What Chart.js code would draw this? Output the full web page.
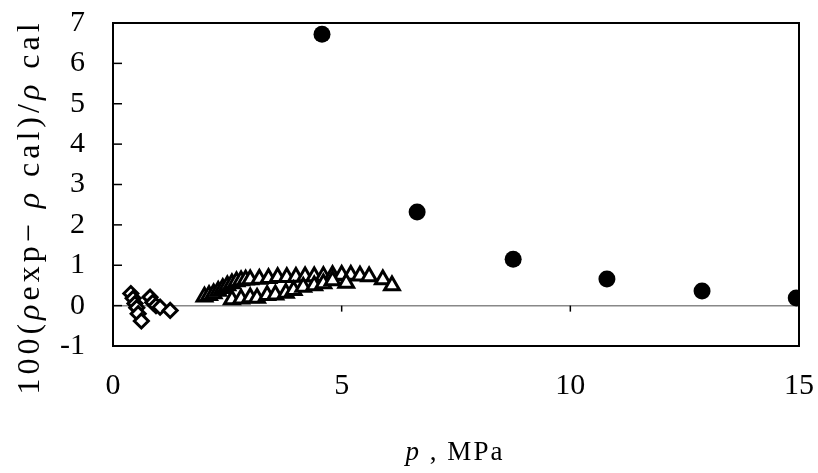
<!DOCTYPE html>
<html>
<head>
<meta charset="utf-8">
<script src="https://cdn.jsdelivr.net/npm/chart.js@4"></script>
<style>
  html, body { margin: 0; padding: 0; background: #fff; }
  #wrap { width: 818px; height: 473px; }
</style>
</head>
<body>
<div id="wrap"><canvas id="grafico"></canvas></div>
<script>
// diamonds (low pressure)
const diamondX = [0.39, 0.44, 0.48, 0.52, 0.55, 0.62, 0.81, 0.87, 0.94, 1.03, 1.25];
const diamondY = [0.30, 0.18, 0.05, -0.05, -0.20, -0.38, 0.21, 0.08, 0.00, -0.04, -0.12];

// triangles (mid pressure)
const triangleX = [2.0, 2.1, 2.2, 2.3, 2.4, 2.5, 2.6, 2.7, 2.8, 2.9, 3.0, 3.2, 3.4, 3.6, 3.8, 4.0, 4.2, 4.4, 4.6, 4.8, 5.0, 5.2, 5.4, 5.6, 5.9, 6.1,
                   2.6, 2.8, 3.0, 3.15, 3.37, 3.55, 3.78, 3.95, 4.16, 4.4, 4.6, 4.8, 5.1];
const triangleY = [0.22, 0.26, 0.30, 0.36, 0.43, 0.50, 0.55, 0.60, 0.62, 0.64, 0.65, 0.66, 0.68, 0.70, 0.70, 0.71, 0.72, 0.72, 0.73, 0.75, 0.76, 0.76, 0.74, 0.72, 0.65, 0.50,
                   0.15, 0.17, 0.20, 0.19, 0.26, 0.27, 0.31, 0.38, 0.46, 0.50, 0.55, 0.62, 0.56];

// filled circles (high pressure)
const circleX = [4.57, 6.65, 8.75, 10.8, 12.88, 14.94];
const circleY = [6.72, 2.32, 1.15, 0.66, 0.36, 0.19];

const xTicks = [0, 5, 10, 15];
const yTicks = [-1, 0, 1, 2, 3, 4, 5, 6, 7];

// axis titles, pieces marked true are italic
const yTitle = [['100(', false], ['ρ', true], ['exp− ', false], ['ρ', true], [' cal)/', false], ['ρ', true], [' cal', false]];
const xTitle = [['p', true], [' , MPa', false]];

const toPts = (xs, ys) => xs.map((x, i) => ({ x: x, y: ys[i] }));

const serif = "'Liberation Serif', 'DejaVu Serif', serif";

// write a title made of normal and italic pieces, centred on 0,0
function drawPieces(ctx, pieces, size, spacing) {
    const fontOf = it => (it ? 'italic ' : '') + size + 'px ' + serif;
    ctx.letterSpacing = spacing + 'px';
    let total = 0;
    pieces.forEach(p => { ctx.font = fontOf(p[1]); total += ctx.measureText(p[0]).width; });
    let x = -total / 2;
    ctx.textAlign = 'left';
    ctx.textBaseline = 'alphabetic';
    ctx.fillStyle = '#000';
    pieces.forEach(p => {
        ctx.font = fontOf(p[1]);
        ctx.fillText(p[0], x, 0);
        x += ctx.measureText(p[0]).width;
    });
}

// frame, zero line, inner tick marks and titles
const framePlugin = {
    id: 'frame',
    beforeDatasetsDraw(chart) {
        const { ctx, chartArea: a, scales } = chart;
        const y0 = scales.y.getPixelForValue(0);
        ctx.save();
        ctx.strokeStyle = '#888';
        ctx.lineWidth = 1.5;
        ctx.beginPath();
        ctx.moveTo(a.left, y0);
        ctx.lineTo(a.right, y0);
        ctx.stroke();
        ctx.strokeStyle = '#000';
        ctx.lineWidth = 1.5;
        yTicks.forEach(v => {
            const py = scales.y.getPixelForValue(v);
            ctx.beginPath();
            ctx.moveTo(a.left, py);
            ctx.lineTo(a.left + 9, py);
            ctx.stroke();
        });
        xTicks.forEach(v => {
            const px = scales.x.getPixelForValue(v);
            ctx.beginPath();
            ctx.moveTo(px, y0);
            ctx.lineTo(px, y0 + 6);
            ctx.stroke();
        });
        ctx.lineWidth = 2;
        ctx.strokeRect(a.left, a.top, a.right - a.left, a.bottom - a.top);
        ctx.restore();
    },
    afterDraw(chart) {
        const ctx = chart.ctx;
        ctx.save();
        ctx.translate(39, 207);
        ctx.rotate(-Math.PI / 2);
        drawPieces(ctx, yTitle, 32, 4);
        ctx.restore();
        ctx.save();
        ctx.translate(455, 460);
        drawPieces(ctx, xTitle, 27, 2);
        ctx.restore();
    }
};

const config = {
    type: 'scatter',
    data: {
        datasets: [
            {
                label: 'diamonds',
                data: toPts(diamondX, diamondY),
                pointStyle: 'rectRot',
                pointRadius: 7,
                backgroundColor: '#fff',
                borderColor: '#000',
                borderWidth: 3
            },
            {
                label: 'triangles',
                data: toPts(triangleX, triangleY),
                pointStyle: 'triangle',
                pointRadius: 8.5,
                backgroundColor: '#fff',
                borderColor: '#000',
                borderWidth: 3
            },
            {
                label: 'circles',
                data: toPts(circleX, circleY),
                pointStyle: 'circle',
                pointRadius: 8.5,
                backgroundColor: '#000',
                borderColor: '#000',
                borderWidth: 0
            }
        ]
    },
    options: {
        responsive: false,
        animation: false,
        layout: { padding: { top: 23, right: 19, left: 0, bottom: 0 } },
        plugins: {
            legend: { display: false },
            tooltip: { enabled: false }
        },
        scales: {
            x: {
                type: 'linear',
                min: 0,
                max: 15,
                afterBuildTicks: s => { s.ticks = xTicks.map(v => ({ value: v })); },
                afterFit: s => { s.height = 127; s.paddingLeft = 0; s.paddingRight = 0; },
                grid: { display: false, drawTicks: false },
                border: { display: false },
                ticks: { color: '#000', font: { family: serif, size: 30 }, padding: 22, autoSkip: false, maxRotation: 0 }
            },
            y: {
                min: -1,
                max: 7,
                afterBuildTicks: s => { s.ticks = yTicks.map(v => ({ value: v })); },
                afterFit: s => { s.width = 113; s.paddingTop = 0; s.paddingBottom = 0; },
                grid: { display: false, drawTicks: false },
                border: { display: false },
                ticks: { color: '#000', font: { family: serif, size: 30 }, padding: 28, autoSkip: false }
            }
        }
    },
    plugins: [framePlugin]
};

const canvas = document.getElementById('grafico');
canvas.width = 818;
canvas.height = 473;
const grafico = new Chart(canvas.getContext('2d'), config);
</script>
</body>
</html>
